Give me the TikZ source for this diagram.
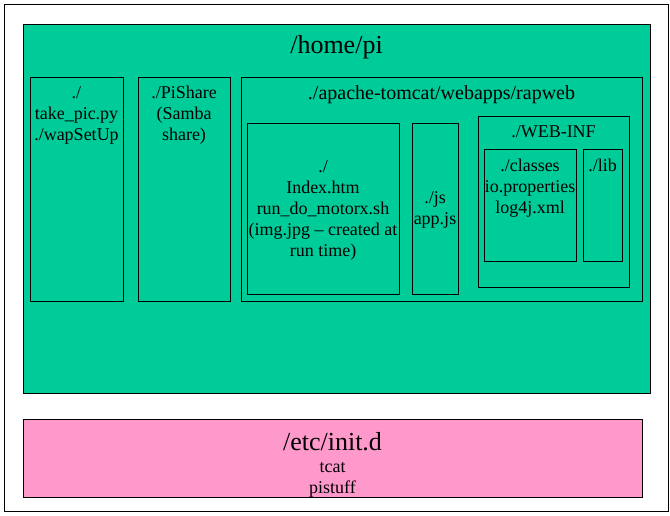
\documentclass[tikz,border=0pt]{standalone}
\usepackage{fontspec}
\setmainfont{Liberation Serif}
\usepackage{xcolor}
\usetikzlibrary{
    positioning
}
\definecolor{homegreen}{HTML}{00CC99}
\definecolor{initpink}{HTML}{FF99CC}
\tikzset{
    dir/.style={draw, line width=0.9pt, inner sep=0pt},
    files/.style={align=center, inner sep=0pt, font=\fontsize{18}{21}\selectfont},
    bigname/.style={align=center, inner sep=0pt, font=\fontsize{26}{30}\selectfont},
}

\begin{document}
\begin{tikzpicture}[x=1pt,y=-1pt]
       \useasboundingbox (0,0) rectangle (670,516);
       % outer frame
       \node[dir, fill=white, minimum width=664pt, minimum height=507pt] (frame) at (336,257.5) {};
       % /home/pi
       \node[dir, fill=homegreen, minimum width=627pt, minimum height=369pt] (home) at (336.5,208.5) {};
       \node[bigname, below=9pt of home.north] (homename) {\strut/home/pi};
       \node[dir, minimum width=93pt, minimum height=224pt] (pic) at (76.5,189) {};
       \node[files, below=7pt of pic.north] (picfiles) {\strut./\\take\_pic.py\\./wapSetUp};
       \node[dir, minimum width=92pt, minimum height=224pt] (share) at (184,189) {};
       \node[files, below=7pt of share.north] (sharefiles) {\strut./PiShare\\(Samba\\share)};
       % tomcat webapp
       \node[dir, minimum width=401pt, minimum height=224pt] (tomcat) at (441.5,189) {};
       \node[files, font=\fontsize{20}{21}\selectfont, below=8.5pt of tomcat.north] (tomcatname) {\strut./apache-tomcat/webapps/rapweb};
       \node[dir, minimum width=152pt, minimum height=171pt] (root) at (323,208.5) {};
       \node[files, yshift=-2pt] (rootfiles) at (root.center) {./\\Index.htm\\run\_do\_motorx.sh\\(img.jpg – created at\\run time)};
       \node[dir, minimum width=46pt, minimum height=171pt] (js) at (435,208.5) {};
       \node[files, yshift=-1pt] (jsfiles) at (js.center) {./js\\app.js};
       \node[dir, minimum width=151pt, minimum height=171pt] (webinf) at (553.5,201.5) {};
       \node[files, below=7pt of webinf.north] (webinfname) {\strut./WEB-INF};
       \node[dir, minimum width=92pt, minimum height=112pt] (classes) at (530,205) {};
       \node[files, below=8.5pt of classes.north] (classfiles) {\strut./classes\\io.properties\\log4j.xml};
       \node[dir, minimum width=39pt, minimum height=112pt] (lib) at (602.5,205) {};
       \node[files, below=8.5pt of lib.north] (libname) {\strut./lib};
       % /etc/init.d
       \node[dir, fill=initpink, minimum width=619pt, minimum height=78pt] (init) at (332.5,458) {};
       \node[bigname, below=11pt of init.north] (initname) {\strut/etc/init.d};
       \node[files, below=39.5pt of init.north] (initfiles) {\strut tcat\\pistuff};
\end{tikzpicture}
\end{document}
